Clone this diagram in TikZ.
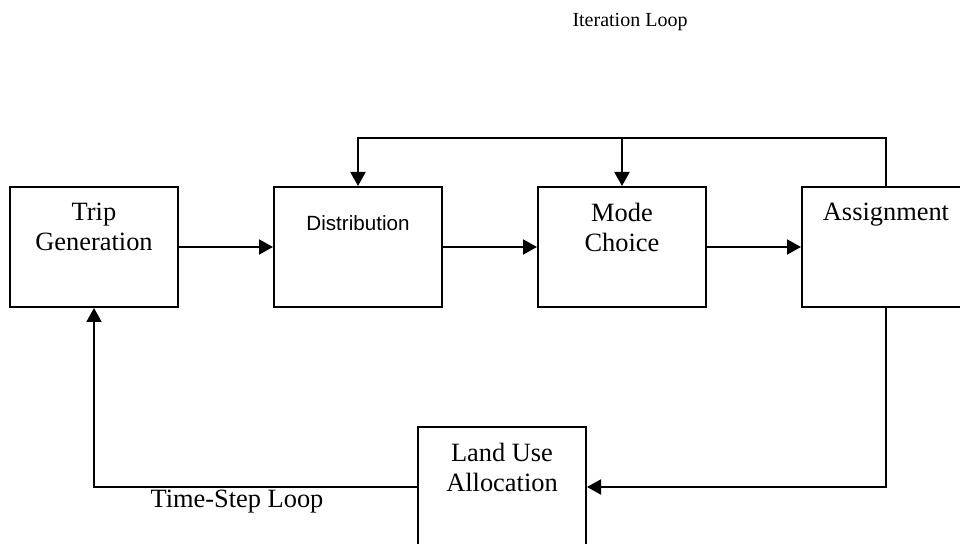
\documentclass[tikz,border=0pt]{standalone}
\usepackage{fontspec}
\setmainfont{Liberation Serif}
\newfontfamily\arialfont{Liberation Sans}
\usetikzlibrary{arrows.meta}

\begin{document}
\begin{tikzpicture}[x=0.5pt,y=-0.5pt,
  box/.style={draw,line width=1pt,minimum width=84pt,minimum height=60pt,inner sep=0pt},
  txt/.style={anchor=north,align=center,inner sep=0pt,font=\fontsize{13.2}{15}\selectfont},
  arr/.style={line width=1pt,-{Triangle[length=7pt,width=7.5pt]}},
  ln/.style={line width=1pt}]
\clip (0,0) rectangle (960,544);
\def\h{17}
% boxes
\node[box] (tg) at (94,247) {};
\node[box] (dist) at (358,247) {};
\node[box] (mc) at (622,247) {};
\node[box] (asg) at (886,247) {};
\node[box] (lu) at (502,487) {};
% box texts
\node[txt] (tgt) at ([yshift=-\h*0.5pt]tg.north) {Trip\\Generation};
\node[anchor=north,inner sep=0pt,font=\arialfont\fontsize{10.3}{12}\selectfont] (distt) at ([yshift=-14.5pt]dist.north) {Distribution};
\node[txt] (mct) at ([yshift=-\h*0.5pt]mc.north) {Mode\\Choice};
\node[txt] (asgt) at ([yshift=-\h*0.5pt]asg.north) {Assignment};
\node[txt] (lut) at ([yshift=-\h*0.5pt]lu.north) {Land Use\\Allocation};
% forward chain
\draw[arr] (tg) -- (dist);
\draw[arr] (dist) -- (mc);
\draw[arr] (mc) -- (asg);
% iteration loop
\coordinate (itl) at (358,138);
\coordinate (itr) at (886,138);
\draw[arr] (asg.north) -- (itr) -- (itl) -- (dist.north);
\draw[arr] (mc.north |- itl) -- (mc.north);
\node[anchor=base,font=\fontsize{10}{12}\selectfont] (itlbl) at (630,27) {Iteration Loop};
% time-step loop
\draw[arr] (asg.south) |- (lu.east);
\draw[arr] (lu.west) -| (tg.south);
\node[anchor=base,font=\fontsize{13.2}{15}\selectfont] (tslbl) at (237,508) {Time-Step Loop};
\end{tikzpicture}
\end{document}
